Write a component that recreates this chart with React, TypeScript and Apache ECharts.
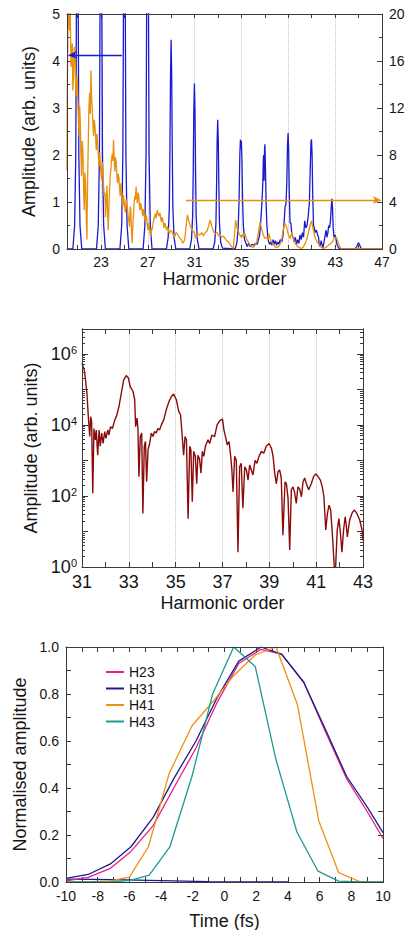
import React, { useEffect, useRef } from 'react';
import * as echarts from 'echarts';

const FONT = '"Liberation Sans", Arial, Helvetica, sans-serif';
const TXT = '#151515';
const AX = '#3a3a3a';
const GRIDLINE = '#c4c4c4';

// ---------- Panel 1: spectra ----------
const spectrumLabelValues = [23, 27, 31, 35, 39, 43, 47];
const spectrumTickValues = [21, 23, 25, 27, 29, 31, 33, 35, 37, 39, 41, 43, 45, 47];
const spectrumGridValues = [23, 27, 31, 35, 39, 43];

// blue spectrum (left axis, arb. units)
const blueSpectrum: [number, number][] = [
  [20.1, 0], [20.6, 0], [20.75, 0.5], [20.85, 2.0], [20.9, 5.0], [20.94, 10], [20.98, 15], [21.02, 10], [21.06, 5.0], [21.11, 2.0], [21.21, 0.5], [21.36, 0],
  [22.62, 0], [22.77, 0.5], [22.87, 2.0], [22.92, 5.0], [22.96, 10], [23.0, 15], [23.04, 10], [23.08, 5.0], [23.13, 2.0], [23.23, 0.5], [23.38, 0],
  [24.62, 0], [24.77, 0.5], [24.87, 2.0], [24.92, 5.0], [24.96, 10], [25.0, 15], [25.04, 10], [25.08, 5.0], [25.13, 2.0], [25.23, 0.5], [25.38, 0],
  [26.6, 0], [26.75, 0.5], [26.85, 2.0], [26.9, 5.0], [26.94, 10], [26.98, 15], [27.02, 10], [27.06, 5.0], [27.11, 2.0], [27.21, 0.5], [27.36, 0],
  [28.59, 0], [28.74, 0.25], [28.84, 0.9], [28.89, 2.1], [28.94, 3.7], [28.99, 4.45], [29.04, 3.7], [29.09, 2.1], [29.14, 0.9], [29.24, 0.25], [29.39, 0],
  [30.58, 0], [30.73, 0.2], [30.83, 0.7], [30.88, 1.65], [30.93, 2.95], [30.98, 3.52], [31.03, 2.95], [31.08, 1.65], [31.13, 0.7], [31.23, 0.2], [31.38, 0],
  [32.57, 0], [32.72, 0.15], [32.82, 0.55], [32.87, 1.3], [32.92, 2.3], [32.97, 2.75], [33.02, 2.3], [33.07, 1.3], [33.12, 0.55], [33.22, 0.15], [33.37, 0.02],
  [34.45, 0], [34.6, 0.12], [34.72, 0.45], [34.8, 1.1], [34.86, 2.0], [34.91, 2.33], [34.95, 2.15], [34.99, 2.3], [35.04, 1.9], [35.09, 1.1], [35.16, 0.5], [35.26, 0.2], [35.38, 0.12],
  [35.5, 0.05], [35.6, 0.12], [35.75, 0.05], [35.9, 0.1], [36.05, 0.08], [36.2, 0.12], [36.35, 0.1], [36.45, 0.2],
  [36.55, 0.3], [36.65, 0.6], [36.75, 1.0], [36.82, 1.4], [36.87, 1.95], [36.9, 2.0], [36.93, 1.45], [36.97, 2.1], [37.0, 2.23], [37.05, 1.7], [37.1, 1.0], [37.17, 0.5], [37.27, 0.2], [37.4, 0.1],
  [37.5, 0.15], [37.6, 0.08], [37.7, 0.2], [37.8, 0.1], [37.9, 0.18], [38.0, 0.08], [38.1, 0.15], [38.2, 0.1], [38.3, 0.2], [38.45, 0.15],
  [38.55, 0.3], [38.65, 0.6], [38.72, 0.9], [38.8, 0.95], [38.87, 1.4], [38.93, 2.2], [38.98, 2.47], [39.03, 2.1], [39.08, 1.2], [39.15, 0.55], [39.22, 0.55], [39.3, 0.3], [39.4, 0.25],
  [39.5, 0.15], [39.6, 0.25], [39.7, 0.1], [39.8, 0.2], [39.9, 0.12], [40.0, 0.3], [40.1, 0.2], [40.2, 0.35], [40.3, 0.25], [40.4, 0.6], [40.5, 0.45], [40.6, 0.5], [40.7, 0.7],
  [40.8, 1.0], [40.88, 1.8], [40.94, 2.3], [40.98, 2.33], [41.03, 2.0], [41.08, 1.2], [41.15, 0.5], [41.22, 0.45], [41.3, 0.35], [41.4, 0.4], [41.5, 0.3], [41.58, 0.25], [41.65, 0.08], [41.72, 0.05], [41.8, 0.18], [41.88, 0.1], [41.95, 0.02], [42.05, 0.15], [42.15, 0.3], [42.22, 0.4], [42.3, 0.25], [42.38, 0.35], [42.45, 0.5], [42.52, 0.45],
  [42.6, 0.6], [42.67, 0.9], [42.72, 1.07], [42.77, 0.9], [42.83, 0.45], [42.9, 0.25], [42.98, 0.3], [43.05, 0.25], [43.15, 0.1], [43.3, 0.02], [43.5, 0],
  [44.7, 0], [44.85, 0.05], [44.95, 0.12], [45.02, 0.13], [45.1, 0.08], [45.2, 0.02], [45.35, 0], [47, 0],
];

// orange spectrum (right axis)
const orangeSpectrum: [number, number][] = [
  [20.1, 6.7], [20.12, 13.2], [20.2, 21], [20.26, 19.5], [20.32, 18.6], [20.38, 20.5], [20.44, 15.5], [20.5, 16.5], [20.55, 17.5], [20.6, 13.5], [20.66, 14.7], [20.72, 17.2], [20.78, 16.7], [20.84, 14], [20.89, 13.0], [20.95, 14.8], [21.0, 13.8], [21.06, 11.5], [21.12, 9.6], [21.18, 12.2], [21.23, 11.0], [21.29, 8], [21.34, 6.2], [21.4, 9.2], [21.46, 8.4], [21.52, 5], [21.57, 3.3], [21.63, 6.5], [21.69, 5.6], [21.75, 2.5], [21.8, 0.8], [21.86, 6], [21.92, 9.0], [21.97, 12], [22.03, 13.3], [22.09, 11.5], [22.15, 15.2], [22.2, 13], [22.26, 11.8], [22.32, 10.5], [22.37, 9.6], [22.43, 11], [22.49, 10.4], [22.55, 9.5], [22.6, 8.4], [22.66, 9.8], [22.71, 9.0], [22.77, 8], [22.83, 7.0], [22.88, 8.2], [22.94, 7.5], [23.0, 6.5], [23.05, 5.9], [23.11, 7.4], [23.17, 6.6], [23.22, 5.5], [23.28, 4.5], [23.34, 4.8], [23.39, 2.7], [23.45, 4], [23.51, 5.4], [23.56, 3.5], [23.62, 1.6], [23.68, 3.5], [23.73, 4.9], [23.79, 6.2], [23.85, 6.8], [23.9, 7.6], [23.96, 8.1], [24.02, 7.5], [24.07, 9.3], [24.13, 7.8], [24.19, 6.6], [24.24, 7.8], [24.3, 7.4], [24.36, 6.3], [24.41, 5.6], [24.47, 6.4], [24.53, 6.1], [24.58, 5.3], [24.64, 4.5], [24.7, 5.6], [24.75, 4.9], [24.81, 4.3], [24.87, 3.6], [24.92, 4.6], [24.98, 4.0], [25.04, 3.5], [25.09, 3.1], [25.15, 4.2], [25.21, 3.9], [25.27, 3.4], [25.32, 2.8], [25.38, 2.4], [25.44, 1.9], [25.5, 3.6], [25.55, 3.3], [25.61, 1.5], [25.66, 0.5], [25.72, 2], [25.77, 2.8], [25.83, 3.8], [25.89, 4.5], [25.94, 4.2], [26.0, 5.3], [26.06, 4.4], [26.11, 3.9], [26.17, 4.8], [26.23, 4.5], [26.28, 3.8], [26.34, 3.3], [26.4, 3.9], [26.45, 3.6], [26.51, 3.2], [26.57, 2.8], [26.62, 3.4], [26.68, 3.1], [26.74, 2.6], [26.79, 2.3], [26.85, 2.9], [26.91, 2.6], [26.96, 2.0], [27.02, 1.6], [27.08, 2.2], [27.13, 1.9], [27.19, 1.4], [27.25, 1.0], [27.3, 1.8], [27.36, 1.6], [27.42, 2.0], [27.47, 2.3], [27.53, 2.6], [27.59, 2.8], [27.64, 3.0], [27.7, 2.6], [27.76, 3.1], [27.82, 3.3], [27.87, 3.0], [27.93, 2.8], [27.99, 2.9], [28.04, 3.1], [28.1, 2.6], [28.16, 2.3], [28.22, 2.7], [28.27, 2.6], [28.33, 2.1], [28.38, 1.8], [28.44, 2.2], [28.5, 2.1], [28.56, 1.8], [28.61, 1.6], [28.67, 1.9], [28.72, 1.8], [28.78, 1.5], [28.84, 1.3], [28.95, 1.6], [29.06, 1.5], [29.17, 1.2], [29.29, 1.0], [29.4, 1.4], [29.52, 1.3], [29.63, 1.1], [29.75, 0.9], [29.86, 0.8], [29.97, 0.5], [30.06, 0.6], [30.15, 0.8], [30.26, 1.8], [30.38, 2.9], [30.46, 2.6], [30.55, 2.2], [30.66, 1.9], [30.78, 1.6], [30.89, 1.5], [31.0, 1.3], [31.08, 1.0], [31.17, 0.9], [31.25, 1.3], [31.34, 1.2], [31.46, 1.2], [31.6, 1.4], [31.75, 1.1], [31.9, 1.4], [32.05, 1.5], [32.2, 2.0], [32.32, 2.45], [32.45, 2.0], [32.6, 1.5], [32.74, 1.3], [32.9, 1.4], [33.05, 1.1], [33.17, 1.2], [33.3, 1.0], [33.45, 1.1], [33.6, 0.9], [33.75, 0.7], [33.9, 0.6], [34.02, 0.4], [34.15, 0.2], [34.3, 0.05], [34.42, 1.4], [34.5, 2.45], [34.62, 1.8], [34.81, 1.3], [34.95, 1.0], [35.05, 1.2], [35.16, 1.0], [35.3, 1.3], [35.45, 0.8], [35.58, 0.6], [35.75, 0.3], [35.88, 0.2], [36.0, 0.1], [36.15, 0.3], [36.3, 0.6], [36.45, 1.4], [36.58, 2.3], [36.7, 1.8], [36.86, 1.2], [37.0, 0.9], [37.15, 1.0], [37.25, 0.8], [37.35, 1.3], [37.45, 0.9], [37.57, 0.6], [37.7, 0.4], [37.85, 0.2], [38.0, 0.1], [38.15, 0.2], [38.3, 0.4], [38.43, 0.8], [38.55, 1.5], [38.7, 2.2], [38.85, 1.9], [39.0, 1.2], [39.15, 0.9], [39.3, 1.4], [39.45, 0.8], [39.58, 0.5], [39.71, 0.3], [39.85, 0.15], [40.0, 0.1], [40.13, 0.05], [40.3, 0.2], [40.45, 0.5], [40.56, 0.8], [40.7, 1.3], [40.85, 2.0], [40.99, 2.4], [41.1, 1.8], [41.27, 1.0], [41.45, 0.6], [41.64, 0.4], [41.8, 0.15], [41.98, 0.05], [42.15, 0.1], [42.3, 0.2], [42.45, 0.35], [42.6, 0.45], [42.75, 0.6], [42.9, 0.9], [43.06, 1.0], [43.18, 0.8], [43.3, 0.4], [43.45, 0.1], [43.6, 0], [44.8, 0], [44.95, 0.06], [45.02, 0.1], [45.1, 0.06], [45.25, 0], [47, 0],
];

const blueArrow = { from: [24.79, 4.13], to: [20.24, 4.13] };
const orangeArrow = { from: [30.27, 4.17], to: [46.9, 4.17] };

// ---------- Panel 2: log spectrum ----------
const logLabelValues = [1, 1e2, 1e4, 1e6];
const logMajorTicks = [1, 1e1, 1e2, 1e3, 1e4, 1e5, 1e6];
const logMinorTicks: number[] = [];
for (let d = 1; d <= 1e6; d *= 10) {
  for (let m = 2; m <= 9; m++) {
    if (d * m <= 5e6) logMinorTicks.push(d * m);
  }
}
const zoomLabelValues = [31, 33, 35, 37, 39, 41, 43];
const zoomTickValues = [31, 32, 33, 34, 35, 36, 37, 38, 39, 40, 41, 42, 43];
const zoomGridValues = [33, 35, 37, 39, 41];

const logSpectrum: [number, number][] = [
  [31.0, 550000], [31.11, 320000], [31.21, 79000], [31.27, 17000], [31.33, 4700], [31.37, 17000], [31.41, 12600], [31.46, 120], [31.51, 7900], [31.57, 3800], [31.61, 7200], [31.67, 1400], [31.73, 7200], [31.78, 2500], [31.84, 5900], [31.9, 3000], [31.97, 6500], [32.02, 4200], [32.1, 7200], [32.15, 5200], [32.22, 8900], [32.3, 7900], [32.4, 13800], [32.47, 17400], [32.58, 33000], [32.68, 79000], [32.78, 186000], [32.89, 245000], [32.98, 209000], [33.06, 120000], [33.18, 87000], [33.25, 51000], [33.29, 8900], [33.35, 15500], [33.39, 7900], [33.43, 350], [33.49, 4700], [33.55, 5900], [33.6, 32], [33.66, 2500], [33.71, 3400], [33.76, 250], [33.82, 2000], [33.89, 3000], [33.96, 5900], [34.03, 4700], [34.1, 6500], [34.17, 5900], [34.24, 7900], [34.31, 7200], [34.39, 10000], [34.49, 13800], [34.6, 27000], [34.72, 46000], [34.82, 63000], [34.91, 74000], [35.03, 51000], [35.13, 24000], [35.21, 19000], [35.28, 4700], [35.34, 1400], [35.4, 4700], [35.46, 3800], [35.53, 23], [35.6, 2500], [35.65, 2000], [35.71, 69], [35.77, 1800], [35.84, 1300], [35.9, 220], [35.95, 1400], [36.02, 1100], [36.08, 440], [36.14, 1800], [36.2, 1300], [36.27, 2500], [36.38, 3800], [36.45, 3000], [36.55, 5200], [36.66, 4700], [36.77, 10000], [36.88, 13200], [37.0, 14500], [37.06, 7200], [37.16, 3800], [37.2, 2750], [37.28, 3400], [37.35, 1300], [37.4, 540], [37.45, 130], [37.52, 1300], [37.59, 1000], [37.66, 2.6], [37.73, 660], [37.8, 830], [37.87, 45], [37.95, 660], [38.02, 540], [38.09, 280], [38.16, 740], [38.23, 540], [38.3, 390], [38.39, 1000], [38.47, 830], [38.56, 1300], [38.66, 1800], [38.76, 1600], [38.87, 2500], [38.99, 3000], [39.09, 2200], [39.16, 1300], [39.23, 440], [39.3, 220], [39.37, 480], [39.44, 540], [39.51, 320], [39.58, 7.8], [39.67, 250], [39.73, 220], [39.8, 85], [39.87, 3], [39.94, 150], [40.01, 180], [40.08, 125], [40.15, 62], [40.22, 180], [40.29, 160], [40.37, 95], [40.44, 250], [40.51, 320], [40.58, 220], [40.68, 150], [40.79, 220], [40.89, 350], [40.98, 420], [41.08, 350], [41.18, 280], [41.26, 180], [41.33, 95], [41.41, 11], [41.48, 32], [41.55, 55], [41.62, 40], [41.69, 8.7], [41.76, 1.5], [41.8, 0.3], [41.85, 2], [41.9, 11], [41.97, 23], [42.03, 10], [42.1, 2.6], [42.17, 11], [42.24, 26], [42.29, 14], [42.33, 7], [42.43, 21], [42.55, 35], [42.64, 40], [42.74, 32], [42.86, 21], [42.96, 11], [43.0, 5.6],
];

// ---------- Panel 3: temporal profiles ----------
const timeLabelValues = [-10, -8, -6, -4, -2, 0, 2, 4, 6, 8, 10];
const timesH23H31 = [-10, -8.6, -7.2, -5.9, -4.5, -3.2, -1.8, -0.5, 0.9, 2.3, 3.6, 5.0, 6.3, 7.7, 9.0, 10.0];
const ampH23 = [0.005, 0.02, 0.058, 0.13, 0.24, 0.40, 0.57, 0.76, 0.93, 0.99, 0.97, 0.85, 0.65, 0.44, 0.30, 0.185];
const ampH31 = [0.015, 0.032, 0.077, 0.15, 0.275, 0.44, 0.60, 0.78, 0.94, 1.0, 0.97, 0.85, 0.66, 0.45, 0.32, 0.21];
const timesH41 = [-10, -8.5, -7.2, -6.0, -4.8, -3.5, -2.05, -0.7, 0.6, 1.95, 3.25, 4.6, 5.95, 7.2, 8.6, 10];
const ampH41 = [0, 0, 0.005, 0.021, 0.15, 0.46, 0.665, 0.77, 0.88, 0.967, 1.0, 0.755, 0.26, 0.04, 0, 0];
const timesH43 = [-10, -8.5, -7.2, -5.94, -4.75, -3.45, -2.05, -0.75, 0.58, 1.94, 3.25, 4.57, 5.9, 7.2, 8.6, 10];
const ampH43 = [0, 0, 0, 0.007, 0.029, 0.149, 0.45, 0.80, 1.0, 0.917, 0.52, 0.213, 0.046, 0.004, 0, 0];
const timesFloor = [-10, -7, -4, -1, 1, 4];
const ampFloor = [0.012, 0.01, 0.006, 0.002, 0, 0];

const profileNames = ['H23', 'H31', 'H41', 'H43'];
const profileColors = ['#ec1c8c', '#1c1c8a', '#ee9010', '#1f9a92'];

const pairs = (xs: number[], ys: number[]) => xs.map((x, i) => [x, ys[i]]);

const labelStyle = (size: number) => ({ fontSize: size, color: TXT, fontFamily: FONT });
const nameStyle = { fontSize: 18, color: TXT, fontFamily: FONT };
const lineStyle = { color: AX, width: 1 };

// plot frames (grid rectangles)
const frames = [
  { left: 67, top: 14, width: 315, height: 235 },
  { left: 82, top: 329, width: 281, height: 238 },
  { left: 66, top: 647, width: 317, height: 235 },
];

function mirrorAxis(extra: any) {
  return {
    axisLine: { show: true, onZero: false, lineStyle },
    axisLabel: { show: false },
    splitLine: { show: false },
    ...extra,
  };
}

export default function App() {
  const ref = useRef<HTMLDivElement>(null);

  useEffect(() => {
    document.body.style.margin = '0';
    const chart = echarts.init(ref.current!, null, { renderer: 'svg' });

    const option: any = {
      animation: false,
      backgroundColor: '#ffffff',
      textStyle: { fontFamily: FONT },
      grid: frames.map((f) => ({ ...f, containLabel: false, outerBoundsMode: 'none' })),
      graphic: frames.map((f) => ({
        type: 'rect', silent: true, z: 50,
        shape: { x: f.left + 0.5, y: f.top + 0.5, width: f.width, height: f.height },
        style: { fill: 'none', stroke: AX, lineWidth: 1 },
      })),
      legend: {
        data: profileNames,
        orient: 'vertical',
        left: 101,
        top: 660,
        icon: 'rect',
        itemWidth: 18,
        itemHeight: 2,
        itemGap: 2.5,
        textStyle: { fontSize: 14, color: TXT, fontFamily: FONT, lineHeight: 14 },
        selectedMode: false,
      },
      xAxis: [
        // 0 panel1 bottom
        {
          gridIndex: 0, type: 'value', min: 20.1, max: 47, position: 'bottom',
          axisLine: { show: true, onZero: false, lineStyle },
          axisTick: { show: true, inside: true, length: 4, customValues: spectrumTickValues, lineStyle },
          axisLabel: { customValues: spectrumLabelValues, margin: 6, ...labelStyle(14) },
          splitLine: { show: false },
          name: 'Harmonic order', nameLocation: 'middle', nameGap: 20, nameTextStyle: nameStyle,
        },
        // 1 panel1 top
        mirrorAxis({
          gridIndex: 0, type: 'value', min: 20.1, max: 47, position: 'top', offset: 0,
          axisTick: { show: true, inside: true, length: 4, customValues: spectrumTickValues, lineStyle },
        }),
        // 2 panel1 grid lines
        {
          gridIndex: 0, type: 'value', min: 20.1, max: 47, position: 'bottom', offset: 0,
          axisLine: { show: false, onZero: false }, axisLabel: { show: false },
          axisTick: { show: false, customValues: spectrumGridValues },
          splitLine: { show: true, lineStyle: { color: GRIDLINE, type: 'dotted', width: 1 } },
        },
        // 3 panel2 bottom
        {
          gridIndex: 1, type: 'value', min: 31, max: 43, position: 'bottom',
          axisLine: { show: true, onZero: false, lineStyle },
          axisTick: { show: true, inside: true, length: 5, customValues: zoomTickValues, lineStyle },
          axisLabel: { customValues: zoomLabelValues, margin: 6, ...labelStyle(18) },
          splitLine: { show: false },
          name: 'Harmonic order', nameLocation: 'middle', nameGap: 27, nameTextStyle: nameStyle,
        },
        // 4 panel2 top
        mirrorAxis({
          gridIndex: 1, type: 'value', min: 31, max: 43, position: 'top', offset: 0,
          axisTick: { show: true, inside: true, length: 5, customValues: zoomTickValues, lineStyle },
        }),
        // 5 panel2 grid lines
        {
          gridIndex: 1, type: 'value', min: 31, max: 43, position: 'bottom', offset: 0,
          axisLine: { show: false, onZero: false }, axisLabel: { show: false },
          axisTick: { show: false, customValues: zoomGridValues },
          splitLine: { show: true, lineStyle: { color: GRIDLINE, type: 'dotted', width: 1 } },
        },
        // 6 panel3 bottom
        {
          gridIndex: 2, type: 'value', min: -10, max: 10, interval: 2, position: 'bottom',
          axisLine: { show: true, onZero: false, lineStyle },
          axisTick: { show: true, inside: true, length: 5, lineStyle },
          minorTick: { show: true, splitNumber: 2, length: 5, lineStyle },
          axisLabel: { customValues: timeLabelValues, margin: 7, ...labelStyle(14) },
          splitLine: { show: false },
          name: 'Time (fs)', nameLocation: 'middle', nameGap: 30, nameTextStyle: nameStyle,
        },
        // 7 panel3 top
        mirrorAxis({
          gridIndex: 2, type: 'value', min: -10, max: 10, interval: 2, position: 'top', offset: 0,
          axisTick: { show: true, inside: true, length: 5, lineStyle },
          minorTick: { show: true, splitNumber: 2, length: 5, lineStyle },
        }),
      ],
      yAxis: [
        // 0 panel1 left
        {
          gridIndex: 0, type: 'value', min: 0, max: 5, interval: 1, position: 'left',
          axisLine: { show: true, onZero: false, lineStyle },
          axisTick: { show: true, inside: true, length: 5, lineStyle },
          minorTick: { show: true, splitNumber: 2, length: 3, lineStyle },
          axisLabel: { margin: 7, ...labelStyle(14) },
          splitLine: { show: false },
          name: 'Amplitude (arb. units)', nameLocation: 'middle', nameGap: 29, nameRotate: 90, nameTextStyle: nameStyle,
        },
        // 1 panel1 right
        {
          gridIndex: 0, type: 'value', min: 0, max: 20, interval: 4, position: 'right',
          axisLine: { show: true, onZero: false, lineStyle },
          axisTick: { show: true, inside: true, length: 5, lineStyle },
          minorTick: { show: true, splitNumber: 2, length: 3, lineStyle },
          axisLabel: { margin: 7, ...labelStyle(14) },
          splitLine: { show: false },
        },
        // 2 panel2 left log major
        {
          gridIndex: 1, type: 'log', logBase: 10, min: 1, max: 5e6, position: 'left',
          axisLine: { show: true, onZero: false, lineStyle },
          axisTick: { show: true, inside: true, length: 6, customValues: logMajorTicks, lineStyle },
          axisLabel: {
            customValues: logLabelValues, margin: 5, ...labelStyle(18),
            formatter: (v: number) => '10{sup|' + Math.round(Math.log10(v)) + '}',
            rich: { sup: { fontSize: 11, color: TXT, fontFamily: FONT, verticalAlign: 'top', padding: [0, 0, 8, 0] } },
          },
          splitLine: { show: false },
          name: 'Amplitude (arb. units)', nameLocation: 'middle', nameGap: 37, nameRotate: 90, nameTextStyle: nameStyle,
        },
        // 3 panel2 left log minor
        mirrorAxis({
          gridIndex: 1, type: 'log', logBase: 10, min: 1, max: 5e6, position: 'left', offset: 0,
          axisTick: { show: true, inside: true, length: 3, customValues: logMinorTicks, lineStyle },
        }),
        // 4 panel2 right log major
        mirrorAxis({
          gridIndex: 1, type: 'log', logBase: 10, min: 1, max: 5e6, position: 'right', offset: 0,
          axisTick: { show: true, inside: true, length: 6, customValues: logMajorTicks, lineStyle },
        }),
        // 5 panel2 right log minor
        mirrorAxis({
          gridIndex: 1, type: 'log', logBase: 10, min: 1, max: 5e6, position: 'right', offset: 0,
          axisTick: { show: true, inside: true, length: 3, customValues: logMinorTicks, lineStyle },
        }),
        // 6 panel3 left
        {
          gridIndex: 2, type: 'value', min: 0, max: 1, interval: 0.2, position: 'left',
          axisLine: { show: true, onZero: false, lineStyle },
          axisTick: { show: true, inside: true, length: 5, lineStyle },
          minorTick: { show: true, splitNumber: 2, length: 5, lineStyle },
          axisLabel: { margin: 7, ...labelStyle(14), formatter: (v: number) => v.toFixed(1) },
          splitLine: { show: false },
          name: 'Normalised amplitude', nameLocation: 'middle', nameGap: 30, nameRotate: 90, nameTextStyle: nameStyle,
        },
        // 7 panel3 right
        mirrorAxis({
          gridIndex: 2, type: 'value', min: 0, max: 1, interval: 0.2, position: 'right', offset: 0,
          axisTick: { show: true, inside: true, length: 5, lineStyle },
          minorTick: { show: true, splitNumber: 2, length: 5, lineStyle },
        }),
      ],
      series: [
        {
          type: 'line', name: 'blue', xAxisIndex: 0, yAxisIndex: 0, data: blueSpectrum,
          showSymbol: false, symbol: 'none', clip: true, silent: true,
          lineStyle: { color: '#1a1ad0', width: 1.3 },
          itemStyle: { color: '#1a1ad0' },
          markLine: {
            silent: true, animation: false, symbol: ['none', 'arrow'], symbolSize: [6, 8],
            label: { show: false }, lineStyle: { color: '#1a1ad0', width: 1.3, type: 'solid' },
            data: [[{ coord: blueArrow.from }, { coord: blueArrow.to }]],
          },
          z: 3,
        },
        {
          type: 'line', name: 'orange', xAxisIndex: 0, yAxisIndex: 1, data: orangeSpectrum,
          showSymbol: false, symbol: 'none', clip: true, silent: true,
          lineStyle: { color: '#e8900c', width: 1.3 },
          itemStyle: { color: '#e8900c' },
          markLine: {
            silent: true, animation: false, symbol: ['none', 'arrow'], symbolSize: [6, 8],
            label: { show: false }, lineStyle: { color: '#e8900c', width: 1.3, type: 'solid' },
            data: [[{ coord: orangeArrow.from }, { coord: orangeArrow.to }]],
          },
          z: 4,
        },
        {
          type: 'line', name: 'log', xAxisIndex: 3, yAxisIndex: 2, data: logSpectrum,
          showSymbol: false, symbol: 'none', clip: true, silent: true,
          lineStyle: { color: '#8b0a0a', width: 1.4 },
          itemStyle: { color: '#8b0a0a' },
        },
        {
          type: 'line', name: 'floor', xAxisIndex: 6, yAxisIndex: 6, data: pairs(timesFloor, ampFloor),
          showSymbol: false, symbol: 'none', clip: true, silent: true,
          lineStyle: { color: profileColors[1], width: 1.3 }, itemStyle: { color: profileColors[1] },
        },
        ...[
          pairs(timesH23H31, ampH23),
          pairs(timesH23H31, ampH31),
          pairs(timesH41, ampH41),
          pairs(timesH43, ampH43),
        ].map((d, i) => ({
          type: 'line', name: profileNames[i], xAxisIndex: 6, yAxisIndex: 6, data: d,
          showSymbol: false, symbol: 'none', clip: true, silent: true,
          lineStyle: { color: profileColors[i], width: 1.3 },
          itemStyle: { color: profileColors[i] },
        })),
      ],
    };

    chart.setOption(option);
    return () => chart.dispose();
  }, []);

  return <div ref={ref} style={{ width: 411, height: 930 }} />;
}
